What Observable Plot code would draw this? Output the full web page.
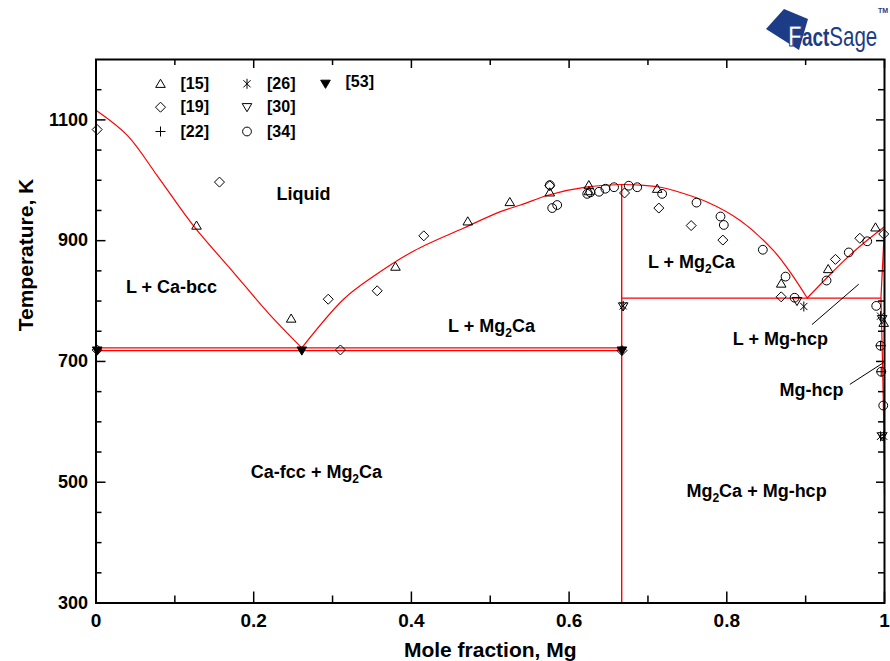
<!DOCTYPE html>
<html><head><meta charset="utf-8">
<script src="https://cdn.jsdelivr.net/npm/d3@7"></script>
<script src="https://cdn.jsdelivr.net/npm/@observablehq/plot@0.6"></script>
<style>
body{margin:0;background:#fff;}
#wrap{position:relative;width:890px;height:661px;font-family:"Liberation Sans",Arial,sans-serif;}
#logo{position:absolute;left:0;top:0;pointer-events:none;}
</style></head><body><div id="wrap"></div>
<script>
// ---------- axes ----------
const xTicksMajor = [0, 0.2, 0.4, 0.6, 0.8, 1];
const xTicksMinor = [0.1, 0.3, 0.5, 0.7, 0.9];
const xTickLabels = ["0", "0.2", "0.4", "0.6", "0.8", "1"];
const yTicksMajor = [300, 500, 700, 900, 1100];
const yTicksMinor = [350, 400, 450, 550, 600, 650, 750, 800, 850, 950, 1000, 1050, 1150];
const xTitle = "Mole fraction, Mg";
const yTitle = "Temperature, K";

// ---------- calculated phase boundaries [x(Mg), T(K)] ----------
const caLiquidus = [[0,1116],[0.040,1074],[0.078,1007],[0.124,924],[0.174,848],[0.218,781],[0.261,722.5]];
const mg2caLiquidusCa = [[0.261,722.5],[0.314,803],[0.352,841],[0.403,883],[0.4665,921],[0.513,948],[0.5384,959],[0.5755,976],[0.623,989],[0.6667,993]];
const mg2caLiquidusMg = [[0.6667,993],[0.6906,992],[0.716,988.5],[0.7328,983],[0.775,964],[0.8174,933],[0.8596,883],[0.8808,847],[0.902,805]];
const mgLiquidus = [[0.902,805],[0.9273,839],[0.9484,866.5],[0.9696,891.5],[0.9908,914],[1,923]];
const mgSolidus = [[1,923],[0.9955,805]];
const mgSolvus = [[0.9955,805],[0.9975,700],[0.999,600],[1,480]];
const invariants = [
  {x1: 0, x2: 0.6667, T: 722.5},
  {x1: 0, x2: 0.6667, T: 718},
  {x1: 0.6667, x2: 0.9955, T: 805}
];
const compound = [{x: 0.6667, T1: 300, T2: 993}];

// ---------- experimental data ----------
const ref15 = [[0.1275,925],[0.2475,771],[0.3798,857],[0.4715,932],[0.5248,964],[0.5755,980],[0.625,992],[0.625,982],[0.7117,986],[0.869,829],[0.9286,853],[0.9886,922],[0.999,764]];
const ref19 = [[0.0015,1084],[0.1566,997],[0.0015,719],[0.2945,803],[0.310,719],[0.3566,817],[0.4157,908],[0.5755,991],[0.6703,979],[0.7138,954],[0.7548,925],[0.795,901],[0.869,807],[0.9378,869],[0.9687,904],[0.999,911],[0.667,718]];
const ref22 = [[0.995,726],[0.9958,683]];
const ref26 = [[0.8977,791],[0.6686,792],[0.995,775],[0.999,576],[0.995,576]];
const ref30 = [[0.6686,791],[0.889,800],[0.997,770],[0.997,576]];
const ref34 = [[0.5755,992],[0.5786,954],[0.5849,959],[0.623,977.5],[0.627,980],[0.638,981],[0.646,986],[0.657,988.5],[0.6757,991],[0.6864,988.5],[0.718,977.5],[0.7616,963],[0.792,940],[0.7962,926],[0.8457,885],[0.8745,840.5],[0.886,805.5],[0.9265,834],[0.9547,880.5],[0.9781,899],[0.9895,792],[0.995,726],[0.9958,683],[0.9984,627]];
const ref53 = [[0.0015,718],[0.261,718],[0.667,718]];

const legendLabels = ["[15]", "[19]", "[22]", "[26]", "[30]", "[34]", "[53]"];

// ---------- annotations ----------
const regionLabels = [
  {text: "Liquid", x: 0.263, T: 977},
  {text: "L + Ca-bcc", x: 0.0958, T: 823},
  {text: "L + Mg2Ca", x: 0.5016, T: 758},
  {text: "L + Mg2Ca", x: 0.755, T: 864},
  {text: "L + Mg-hcp", x: 0.868, T: 736},
  {text: "Mg-hcp", x: 0.9074, T: 653},
  {text: "Ca-fcc + Mg2Ca", x: 0.2796, T: 517},
  {text: "Mg2Ca + Mg-hcp", x: 0.8377, T: 485}
];
const pointers = [
  {x1: 0.908, T1: 761, x2: 0.9674, T2: 828},
  {x1: 0.956, T1: 662, x2: 0.9987, T2: 698}
];

// ---------- symbols ----------
function sz(size) { return Math.sqrt(size / Math.PI); }
const symTriUp = {draw(c, s) { const r = sz(s); c.moveTo(0, -0.95*r); c.lineTo(r, 0.75*r); c.lineTo(-r, 0.75*r); c.closePath(); }};
const symTriDown = {draw(c, s) { const r = sz(s); c.moveTo(0, 0.95*r); c.lineTo(r, -0.75*r); c.lineTo(-r, -0.75*r); c.closePath(); }};
const symDiamond = {draw(c, s) { const r = sz(s); c.moveTo(0, -r); c.lineTo(r, 0); c.lineTo(0, r); c.lineTo(-r, 0); c.closePath(); }};
const symPlus = {draw(c, s) { const r = sz(s); c.moveTo(-r, 0); c.lineTo(r, 0); c.moveTo(0, -r); c.lineTo(0, r); }};
const symAsterisk = {draw(c, s) { const r = sz(s); const d = r*0.72; c.moveTo(0, -r); c.lineTo(0, r); c.moveTo(-d, -d); c.lineTo(d, d); c.moveTo(-d, d); c.lineTo(d, -d); }};

const series = [
  {data: ref15, symbol: symTriUp, r: 4.8, fill: "none"},
  {data: ref19, symbol: symDiamond, r: 5, fill: "none"},
  {data: ref22, symbol: symPlus, r: 5, fill: "none"},
  {data: ref26, symbol: symAsterisk, r: 5, fill: "none"},
  {data: ref30, symbol: symTriDown, r: 4.8, fill: "none"},
  {data: ref34, symbol: "circle", r: 4.4, fill: "none"},
  {data: ref53, symbol: symTriDown, r: 4.8, fill: "black"}
];

const FW = 788.5, FH = 543.5; // frame size in px (for tick insets)
const red = "#ff0000";
const px = d => d[0], py = d => d[1];

const marks = [];
for (const ln of [caLiquidus, mg2caLiquidusCa, mg2caLiquidusMg, mgLiquidus]) {
  marks.push(Plot.line(ln, {x: px, y: py, stroke: red, strokeWidth: 1.2, curve: "catmull-rom"}));
}
for (const ln of [mgSolidus, mgSolvus]) {
  marks.push(Plot.line(ln, {x: px, y: py, stroke: red, strokeWidth: 1.2}));
}
marks.push(Plot.ruleY(invariants, {y: "T", x1: "x1", x2: "x2", stroke: red, strokeWidth: 1.2}));
marks.push(Plot.ruleX(compound, {x: "x", y1: "T1", y2: "T2", stroke: red, strokeWidth: 1.4}));

for (const s of series) {
  marks.push(Plot.dot(s.data, {x: px, y: py, symbol: s.symbol, r: s.r, fill: s.fill, stroke: "black", strokeWidth: 1}));
}

marks.push(Plot.link(pointers, {x1: "x1", y1: "T1", x2: "x2", y2: "T2", stroke: "black", strokeWidth: 1}));
marks.push(Plot.text(regionLabels, {x: "x", y: "T", text: "text", fontSize: 18, fontWeight: "bold", fill: "black", textAnchor: "middle", lineAnchor: "middle"}));

// legend (3 columns x 3 rows, placed from the frame's top-left)
const colDx = [64.5, 151, 229.5], rowDy = [24.3, 47.7, 72];
legendLabels.forEach((lab, i) => {
  const col = Math.floor(i / 3), row = i % 3;
  const s = series[i];
  marks.push(Plot.dot([lab], {frameAnchor: "top-left", dx: colDx[col], dy: rowDy[row], symbol: s.symbol, r: s.r, fill: s.fill, stroke: "black", strokeWidth: 1}));
  marks.push(Plot.text([lab], {frameAnchor: "top-left", dx: colDx[col] + 20, dy: rowDy[row] - (col === 2 ? 1.5 : 0), text: d => d, textAnchor: "start", lineAnchor: "middle", fontSize: 16, fontWeight: "bold"}));
});

// inward ticks
marks.push(Plot.ruleX(xTicksMajor, {x: d => d, insetTop: FH - 11, stroke: "black", strokeWidth: 1.5}));
marks.push(Plot.ruleX(xTicksMinor, {x: d => d, insetTop: FH - 7, stroke: "black", strokeWidth: 1.5}));
marks.push(Plot.ruleX(xTicksMajor, {x: d => d, insetBottom: FH - 9, stroke: "black", strokeWidth: 1.5}));
marks.push(Plot.ruleX(xTicksMinor, {x: d => d, insetBottom: FH - 6, stroke: "black", strokeWidth: 1.5}));
marks.push(Plot.ruleY(yTicksMajor, {y: d => d, insetRight: FW - 10, stroke: "black", strokeWidth: 1.5}));
marks.push(Plot.ruleY(yTicksMinor, {y: d => d, insetRight: FW - 6, stroke: "black", strokeWidth: 1.5}));
marks.push(Plot.ruleY(yTicksMajor, {y: d => d, insetLeft: FW - 8, stroke: "black", strokeWidth: 1.5}));
marks.push(Plot.ruleY(yTicksMinor, {y: d => d, insetLeft: FW - 6, stroke: "black", strokeWidth: 1.5}));
marks.push(Plot.frame({stroke: "black", strokeWidth: 2}));

// tick labels and titles
marks.push(Plot.text(xTicksMajor, {x: d => d, frameAnchor: "bottom", dy: 18, text: (d, i) => xTickLabels[i], fontSize: 19, fontWeight: "bold", lineAnchor: "middle"}));
marks.push(Plot.text(yTicksMajor, {y: d => d, frameAnchor: "left", dx: -8, text: d => String(d), textAnchor: "end", lineAnchor: "middle", fontSize: 18, fontWeight: "bold"}));
marks.push(Plot.text([xTitle], {frameAnchor: "bottom", dy: 47, text: d => d, fontSize: 21, fontWeight: "bold", lineAnchor: "middle"}));
marks.push(Plot.text([yTitle], {frameAnchor: "left", dx: -70, text: d => d, rotate: -90, fontSize: 21, fontWeight: "bold", lineAnchor: "middle"}));

const chart = Plot.plot({
  width: 890, height: 661,
  marginLeft: 95.5, marginRight: 6, marginTop: 59, marginBottom: 58.5,
  x: {domain: [0, 1], axis: null},
  y: {domain: [300, 1200], axis: null},
  style: {fontFamily: '"Liberation Sans", Arial, sans-serif', background: "white", overflow: "visible", color: "black"},
  marks
});

// subscripts for Mg2Ca
chart.querySelectorAll("text").forEach(t => {
  const s = t.textContent;
  const k = s.indexOf("Mg2Ca");
  if (k < 0) return;
  const before = s.slice(0, k + 2), after = s.slice(k + 3);
  while (t.firstChild) t.removeChild(t.firstChild);
  const ns = "http://www.w3.org/2000/svg";
  t.appendChild(document.createTextNode(before));
  const sub = document.createElementNS(ns, "tspan");
  sub.setAttribute("font-size", "12");
  sub.setAttribute("dy", "5");
  sub.textContent = "2";
  t.appendChild(sub);
  const rest = document.createElementNS(ns, "tspan");
  rest.setAttribute("dy", "-5");
  rest.textContent = after;
  t.appendChild(rest);
});

const wrap = document.getElementById("wrap");
wrap.appendChild(chart);

// FactSage logo
wrap.insertAdjacentHTML("beforeend", `
<svg id="logo" width="890" height="60" viewBox="0 0 890 60">
  <polygon points="766,29 784,9 808,19 799,50" fill="#1d3c87"/>
  <g transform="translate(788,46) scale(0.76,1)">
    <text x="0" y="0" font-family="Liberation Sans, Arial, sans-serif" fill="#1d3c87"><tspan font-weight="900" font-size="30" fill="#ffffff" stroke="#1d3c87" stroke-width="1.2">F</tspan><tspan font-weight="900" font-size="25">act</tspan><tspan font-size="27">Sage</tspan></text>
  </g>
  <text x="878" y="13" font-family="Liberation Sans, Arial, sans-serif" font-weight="bold" font-size="7" fill="#1d3c87">TM</text>
</svg>`);
</script></body></html>
